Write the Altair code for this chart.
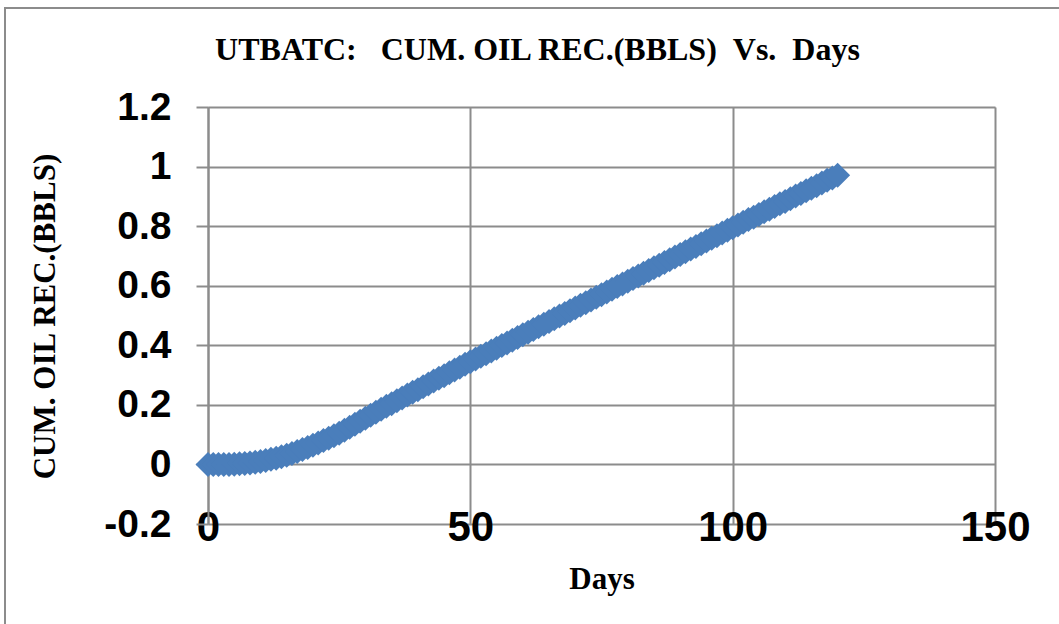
import altair as alt
import pandas as pd

# Cumulative oil recovery (BBLS) by day
days = list(range(0, 121))
cum_oil = [
    0.000, 0.000, 0.000, 0.000, 0.000, 0.001, 0.002, 0.003, 0.005, 0.007,
    0.010, 0.013, 0.017, 0.021, 0.026, 0.031, 0.037, 0.043, 0.050, 0.057,
    0.064, 0.072, 0.080, 0.088, 0.096, 0.105, 0.115, 0.125, 0.135, 0.145,
    0.155, 0.165, 0.175, 0.185, 0.195, 0.204, 0.214, 0.223, 0.233, 0.242,
    0.251, 0.261, 0.270, 0.280, 0.289, 0.298, 0.308, 0.317, 0.326, 0.336,
    0.345, 0.354, 0.363, 0.372, 0.381, 0.390, 0.399, 0.408, 0.417, 0.426,
    0.435, 0.444, 0.453, 0.462, 0.471, 0.480, 0.489, 0.498, 0.507, 0.516,
    0.525, 0.534, 0.543, 0.552, 0.561, 0.570, 0.579, 0.588, 0.597, 0.606,
    0.615, 0.624, 0.633, 0.642, 0.651, 0.660, 0.669, 0.678, 0.687, 0.696,
    0.705, 0.714, 0.723, 0.732, 0.741, 0.750, 0.759, 0.768, 0.777, 0.786,
    0.795, 0.804, 0.813, 0.822, 0.830, 0.839, 0.848, 0.857, 0.866, 0.875,
    0.883, 0.892, 0.901, 0.910, 0.919, 0.927, 0.936, 0.945, 0.954, 0.962,
    0.971,
]

x_ticks = [0, 50, 100, 150]
y_ticks = [-0.2, 0, 0.2, 0.4, 0.6, 0.8, 1, 1.2]

df = pd.DataFrame({"Days": days, "Oil": cum_oil})

GRID = "#8c8c8c"
SANS = "Liberation Sans"
SERIF = "Liberation Serif"

points = alt.Chart(df).mark_point(
    shape="diamond", filled=True, size=625, color="#4a7ebb", opacity=1, strokeWidth=0
).encode(
    x=alt.X(
        "Days:Q",
        scale=alt.Scale(domain=[0, 150], nice=False, zero=False),
        axis=alt.Axis(
            values=x_ticks,
            title="Days",
            titleFont=SERIF,
            titleFontSize=31,
            titleFontWeight="bold",
            titleColor="black",
            titleBaseline="alphabetic",
            titleY=64,
            labelFont=SANS,
            labelFontSize=42,
            labelFontWeight="bold",
            labelColor="black",
            labelBaseline="middle",
            labelPadding=3,
            labelFlush=False,
            labelOverlap=False,
            ticks=False,
            domain=False,
            grid=True,
            gridColor=GRID,
            gridWidth=2,
        ),
    ),
    y=alt.Y(
        "Oil:Q",
        scale=alt.Scale(domain=[-0.2, 1.2], nice=False, zero=False),
        axis=alt.Axis(
            values=y_ticks,
            labelExpr="toString(datum.value)",
            title="CUM. OIL REC.(BBLS)",
            titleFont=SERIF,
            titleFontSize=31,
            titleFontWeight="bold",
            titleColor="black",
            titleAngle=-90,
            titleBaseline="middle",
            titleAlign="center",
            titleX=-163,
            titleY=209,
            labelFont=SANS,
            labelFontSize=39,
            labelFontWeight="bold",
            labelColor="black",
            labelPadding=25,
            labelFlush=False,
            labelOverlap=False,
            tickSize=12,
            tickColor=GRID,
            tickWidth=2,
            domainColor=GRID,
            domainWidth=2,
            grid=True,
            gridColor=GRID,
            gridWidth=2,
        ),
    ),
)

# Outer chart frame
frame = alt.Chart(pd.DataFrame({"f": [0]})).mark_rect(
    fill="transparent", stroke="#8c8c8c", strokeWidth=2
).encode(
    x=alt.value(-203), x2=alt.value(900), y=alt.value(-99), y2=alt.value(560)
)

chart = alt.layer(frame, points).properties(
    width=787,
    height=417,
    autosize=alt.AutoSizeParams(type="none"),
    padding={"left": 208, "top": 107, "right": 64, "bottom": 100},
    title=alt.TitleParams(
        text="UTBATC:\u00a0\u00a0\u00a0CUM. OIL REC.(BBLS)\u00a0\u00a0Vs.\u00a0\u00a0Days",
        font=SERIF,
        fontSize=32,
        fontWeight="bold",
        color="black",
        anchor="middle",
        dx=-64,
        baseline="alphabetic",
        offset=0,
        dy=85,
    ),
).configure_view(stroke=None).configure(background="white")

chart.save("out.html", embed_options={"renderer": "svg", "actions": False})
